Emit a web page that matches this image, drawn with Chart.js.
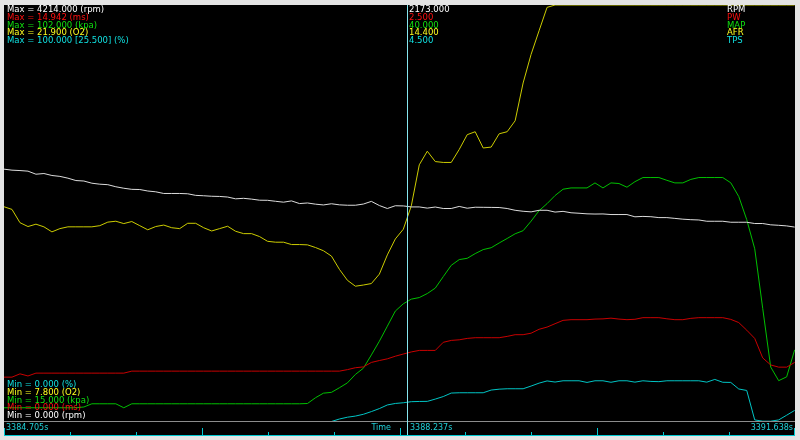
<!DOCTYPE html>
<html lang="en">
<head>
<meta charset="UTF-8"/>
<title>Log viewer</title>
<script src="https://cdn.jsdelivr.net/npm/chart.js@4/dist/chart.umd.min.js"></script>
<style>
  *{box-sizing:border-box;margin:0;padding:0}
  body{background:#e4e4e4;width:800px;height:440px;overflow:hidden}
  .wrap{position:relative;width:800px;height:440px}
</style>
</head>
<body>
<div class="wrap"><canvas id="log"></canvas></div>
<script>
// ── Data (sample times in seconds, one value per channel per sample) ──────────
const times = [
  3384.705, 3384.775, 3384.845, 3384.915, 3384.985, 3385.055, 3385.125, 3385.195, 3385.265, 3385.335,
  3385.405, 3385.475, 3385.545, 3385.615, 3385.685, 3385.755, 3385.825, 3385.895, 3385.965, 3386.035,
  3386.105, 3386.175, 3386.245, 3386.315, 3386.385, 3386.455, 3386.525, 3386.595, 3386.665, 3386.735,
  3386.805, 3386.875, 3386.945, 3387.015, 3387.085, 3387.155, 3387.225, 3387.295, 3387.365, 3387.435,
  3387.505, 3387.575, 3387.645, 3387.715, 3387.785, 3387.855, 3387.925, 3387.995, 3388.065, 3388.135,
  3388.205, 3388.275, 3388.345, 3388.415, 3388.485, 3388.555, 3388.625, 3388.695, 3388.765, 3388.835,
  3388.905, 3388.975, 3389.045, 3389.115, 3389.185, 3389.255, 3389.325, 3389.395, 3389.465, 3389.535,
  3389.605, 3389.675, 3389.745, 3389.815, 3389.885, 3389.955, 3390.025, 3390.095, 3390.165, 3390.235,
  3390.305, 3390.375, 3390.445, 3390.515, 3390.585, 3390.655, 3390.725, 3390.795, 3390.865, 3390.935,
  3391.005, 3391.075, 3391.145, 3391.215, 3391.285, 3391.355, 3391.425, 3391.495, 3391.565, 3391.635
];

const rpm = [
  2553, 2543, 2539, 2533, 2502, 2509, 2489, 2480, 2462, 2438,
  2433, 2411, 2401, 2396, 2375, 2360, 2349, 2347, 2332, 2324,
  2307, 2307, 2307, 2304, 2288, 2284, 2279, 2277, 2271, 2253,
  2258, 2250, 2239, 2238, 2228, 2219, 2232, 2205, 2211, 2199,
  2191, 2203, 2192, 2188, 2188, 2200, 2227, 2185, 2155, 2183,
  2181, 2171, 2171, 2159, 2170, 2155, 2155, 2176, 2158, 2168,
  2167, 2166, 2165, 2155, 2137, 2127, 2121, 2137, 2137, 2119,
  2126, 2112, 2107, 2101, 2099, 2100, 2094, 2094, 2094, 2071,
  2075, 2072, 2063, 2063, 2055, 2047, 2042, 2039, 2026, 2026,
  2026, 2016, 2016, 2016, 2003, 2003, 1990, 1985, 1979, 1967
];

const pw = [
  1.591, 1.591, 1.710, 1.634, 1.735, 1.735, 1.735, 1.735, 1.735, 1.735,
  1.735, 1.735, 1.735, 1.735, 1.735, 1.735, 1.807, 1.807, 1.807, 1.807,
  1.807, 1.807, 1.807, 1.807, 1.807, 1.807, 1.807, 1.807, 1.807, 1.807,
  1.807, 1.807, 1.807, 1.807, 1.807, 1.807, 1.807, 1.807, 1.807, 1.807,
  1.807, 1.807, 1.807, 1.861, 1.929, 1.958, 2.119, 2.187, 2.248, 2.342,
  2.421, 2.496, 2.550, 2.550, 2.550, 2.841, 2.909, 2.931, 2.981, 3.006,
  3.006, 3.006, 3.006, 3.053, 3.114, 3.114, 3.168, 3.308, 3.387, 3.509,
  3.628, 3.653, 3.653, 3.653, 3.674, 3.682, 3.707, 3.674, 3.653, 3.667,
  3.725, 3.725, 3.725, 3.685, 3.653, 3.653, 3.700, 3.725, 3.725, 3.725,
  3.725, 3.664, 3.549, 3.276, 2.981, 2.281, 2.029, 1.950, 1.950, 2.119
];

const map = [
  17.87, 17.87, 17.87, 17.87, 17.87, 17.87, 17.87, 17.87, 17.87, 17.87,
  18.03, 18.70, 18.70, 18.70, 18.70, 17.87, 18.70, 18.70, 18.70, 18.70,
  18.70, 18.70, 18.70, 18.70, 18.70, 18.70, 18.70, 18.70, 18.70, 18.70,
  18.70, 18.70, 18.70, 18.70, 18.70, 18.70, 18.70, 18.70, 18.76, 19.96,
  20.92, 21.09, 22.05, 23.07, 24.83, 26.13, 28.91, 31.77, 34.91, 38.07,
  39.59, 40.56, 40.89, 41.73, 42.86, 45.26, 47.62, 48.82, 49.09, 50.07,
  50.91, 51.30, 52.29, 53.23, 54.21, 54.86, 56.85, 59.04, 60.51, 62.20,
  63.52, 63.79, 63.79, 63.79, 64.84, 63.79, 64.84, 64.71, 63.94, 65.09,
  65.96, 65.96, 65.96, 65.38, 64.84, 64.84, 65.57, 65.96, 65.96, 65.96,
  65.96, 64.86, 61.99, 57.16, 51.08, 38.63, 26.38, 23.53, 24.33, 29.97
];

const afr = [
  15.07, 14.98, 14.53, 14.40, 14.48, 14.39, 14.22, 14.33, 14.39, 14.39,
  14.39, 14.39, 14.43, 14.55, 14.58, 14.50, 14.57, 14.43, 14.29, 14.40,
  14.45, 14.36, 14.33, 14.51, 14.51, 14.36, 14.25, 14.33, 14.41, 14.24,
  14.16, 14.16, 14.06, 13.90, 13.87, 13.87, 13.79, 13.79, 13.78, 13.69,
  13.58, 13.40, 12.95, 12.58, 12.38, 12.42, 12.47, 12.79, 13.44, 13.98,
  14.31, 15.10, 16.49, 16.95, 16.60, 16.57, 16.57, 17.01, 17.51, 17.61,
  17.06, 17.09, 17.54, 17.61, 17.98, 19.26, 20.23, 21.03, 21.82, 21.90,
  21.90, 21.90, 21.90, 21.90, 21.90, 21.90, 21.90, 21.90, 21.90, 21.90,
  21.90, 21.90, 21.90, 21.90, 21.90, 21.90, 21.90, 21.90, 21.90, 21.90,
  21.90, 21.90, 21.90, 21.90, 21.90, 21.90, 21.90, 21.90, 21.90, 21.90
];

const tps = [
  0, 0, 0, 0, 0, 0, 0, 0, 0, 0,
  0, 0, 0, 0, 0, 0, 0, 0, 0, 0,
  0, 0, 0, 0, 0, 0, 0, 0, 0, 0,
  0, 0, 0, 0, 0, 0, 0, 0, 0, 0,
  0, 0, 0.60, 1.03, 1.30, 1.73, 2.38, 3.10, 3.97, 4.33,
  4.50, 4.76, 4.81, 4.83, 5.38, 5.99, 6.83, 6.90, 6.90, 6.90,
  6.90, 7.55, 7.76, 7.86, 7.86, 7.86, 8.51, 9.21, 9.74, 9.47,
  9.78, 9.78, 9.78, 9.38, 9.78, 9.78, 9.42, 9.78, 9.78, 9.45,
  9.78, 9.62, 9.57, 9.78, 9.78, 9.78, 9.78, 9.78, 9.45, 10.10,
  9.42, 9.38, 7.81, 7.45, 0.38, 0.07, 0.07, 0.38, 1.51, 2.67
];

// channel scales and labels, as shown in the viewer
const channels  = ['RPM', 'PW', 'MAP', 'AFR', 'TPS'];
const chMin     = [0, 0, 15, 7.8, 0];
const chMax     = [4214, 14.942, 102, 21.9, 100];
const lineCols  = ['#dcdcdc', '#c80000', '#00c000', '#cccc00', '#00c4c4'];
const textCols  = ['#ffffff', '#ff1010', '#10e010', '#ffff20', '#10e0e0'];
const maxLabels = ['Max = 4214.000 (rpm)', 'Max = 14.942 (ms)', 'Max = 102.000 (kpa)', 'Max = 21.900 (O2)', 'Max = 100.000 [25.500] (%)'];
const minLabels = ['Min = 0.000 (%)', 'Min = 7.800 (O2)', 'Min = 15.000 (kpa)', 'Min = 0.000 (ms)', 'Min = 0.000 (rpm)'];
const minCols   = ['#10e0e0', '#ffff20', '#10e010', '#ff1010', '#ffffff'];
const cursorTime = 3388.237;
const cursorVals = ['2173.000', '2.500', '40.000', '14.400', '4.500'];
const tStart = 3384.705, tEnd = 3391.638;

const series = [rpm, pw, map, afr, tps];

// ── Frame, time strip, cursor and labels ─────────────────────────────────────
const FONT = '"DejaVu Sans", sans-serif';
const SEP_Y = 421;
const STRIP_BOTTOM = 435;

const panel = {
  id: 'panel',
  beforeDraw(chart) {
    const { ctx, chartArea: a } = chart;
    ctx.save();
    ctx.fillStyle = '#e4e4e4';
    ctx.fillRect(0, 0, chart.width, chart.height);
    ctx.fillStyle = '#000';
    ctx.fillRect(a.left, a.top, a.right - a.left, STRIP_BOTTOM + 1 - a.top);
    ctx.restore();
  },
  afterDatasetsDraw(chart) {
    const { ctx, chartArea: a } = chart;
    const xs = chart.scales.x;
    ctx.save();

    // separator between plot and time strip (covers zero-value traces)
    ctx.fillStyle = '#8c8c8c';
    ctx.fillRect(a.left, SEP_Y, a.right - a.left, 1);
    ctx.fillStyle = '#000';
    ctx.fillRect(a.left, SEP_Y + 1, a.right - a.left, STRIP_BOTTOM - SEP_Y - 1);

    // strip bottom line and ticks
    ctx.fillStyle = '#00c8d0';
    ctx.fillRect(a.left, STRIP_BOTTOM, a.right - a.left, 1);
    for (let i = 0; i <= 12; i++) {
      const x = Math.round(xs.getPixelForValue(tStart + i * (tEnd - tStart) / 12));
      const h = i % 3 === 0 ? 7 : 3;
      ctx.fillRect(Math.min(x, a.right - 1), STRIP_BOTTOM - h, 1, h);
    }

    // cursor
    const cx = Math.round(xs.getPixelForValue(cursorTime));
    ctx.fillStyle = '#86e6ee';
    ctx.fillRect(cx, a.top, 1, STRIP_BOTTOM - a.top);

    // time labels
    ctx.font = '8px ' + FONT;
    ctx.textBaseline = 'middle';
    ctx.fillStyle = '#20d0d8';
    ctx.textAlign = 'left';
    ctx.fillText(tStart.toFixed(3) + 's', a.left + 2, 428);
    ctx.fillText(cursorTime.toFixed(3) + 's', cx + 3, 428);
    ctx.textAlign = 'right';
    ctx.fillText('Time', cx - 16, 428);
    ctx.fillText(tEnd.toFixed(3) + 's', a.right - 2, 428);

    // channel labels
    ctx.font = '8.5px ' + FONT;
    ctx.textAlign = 'left';
    for (let i = 0; i < channels.length; i++) {
      const y = 10 + i * 7.65;
      ctx.fillStyle = textCols[i];
      ctx.fillText(maxLabels[i], 7, y);
      ctx.fillText(cursorVals[i], cx + 2, y);
      ctx.fillText(channels[i], 727, y);
      ctx.fillStyle = minCols[i];
      ctx.fillText(minLabels[i], 7, 385 + i * 7.7);
    }
    ctx.restore();
  }
};

// ── Chart ────────────────────────────────────────────────────────────────────
const scales = {
  x: { type: 'linear', min: tStart, max: tEnd, display: false }
};
channels.forEach((c, i) => {
  scales['y' + c] = { type: 'linear', min: chMin[i], max: chMax[i], display: false };
});

new Chart(document.getElementById('log'), {
  type: 'line',
  data: {
    datasets: channels.map((c, i) => ({
      label: c,
      data: times.map((t, k) => ({ x: t, y: series[i][k] })),
      yAxisID: 'y' + c,
      borderColor: lineCols[i],
      borderWidth: 1,
      pointRadius: 0,
      tension: 0,
      fill: false,
    }))
  },
  options: {
    responsive: true,
    maintainAspectRatio: false,
    animation: false,
    events: [],
    layout: { padding: { left: 4, top: 5, right: 5, bottom: 18.5 } },
    plugins: { legend: { display: false }, tooltip: { enabled: false } },
    scales
  },
  plugins: [panel]
});
</script>
</body>
</html>
